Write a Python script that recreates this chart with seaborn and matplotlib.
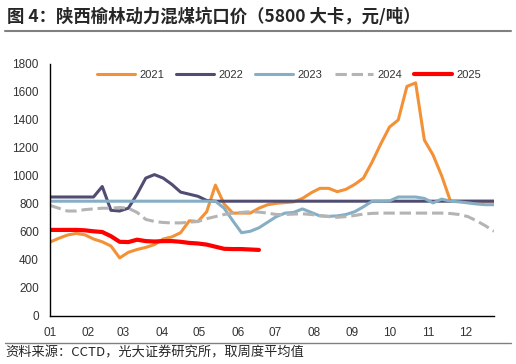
import numpy as np
import pandas as pd
import matplotlib
matplotlib.use("Agg")
import matplotlib.pyplot as plt
from matplotlib.lines import Line2D
import seaborn as sns

# weekly prices, week 0 = first week of January
y2021 = [528, 555, 578, 590, 580, 550, 530, 500, 415, 455, 475, 490, 510, 550, 565, 595,
         680, 675, 745, 935, 800, 735, 735, 735, 770, 795, 805, 810, 815, 840, 880, 912,
         912, 888, 905, 940, 985, 1100, 1230, 1350, 1400, 1640, 1665, 1257, 1150, 1000,
         820, 820, 820, 820, 820, 820]
y2022 = [850, 850, 850, 850, 850, 850, 925, 755, 750, 770, 870, 985, 1010, 985, 940, 885,
         870, 855, 825] + [820] * 33
y2023 = [820] * 20 + [770, 680, 595, 605, 630, 670, 710, 735, 740, 765, 740, 715, 712, 715,
                      725, 745, 780, 820, 820, 822, 850, 850, 850, 840, 808, 835, 820, 815,
                      808, 800, 795, 795]
y2024 = [790, 770, 750, 750, 760, 765, 770, 770, 775, 770, 740, 690, 675, 668, 665, 665,
         670, 675, 695, 710, 725, 735, 740, 745, 742, 735, 725, 725, 728, 730, 725, 718,
         710, 705, 710, 718, 728, 733, 735, 735, 735, 735, 735, 735, 735, 735, 732, 725,
         710, 680, 645, 605]
y2025 = [615, 615, 615, 615, 612, 605, 600, 570, 530, 528, 545, 535, 532, 535, 535, 530,
         522, 518, 510, 495, 480, 478, 478, 475, 472]

months = ["01", "02", "03", "04", "05", "06", "07", "08", "09", "10", "11", "12"]
month_start_day = [0, 31, 59, 90, 120, 151, 181, 212, 243, 273, 304, 334]

series = {"2021": y2021, "2022": y2022, "2023": y2023, "2024": y2024, "2025": y2025}
colors = {"2021": "#F39137", "2022": "#514D72", "2023": "#86AEC4",
          "2024": "#B4B4B4", "2025": "#FF0000"}
widths = {"2021": 2.2, "2022": 2.2, "2023": 2.2, "2024": 2.2, "2025": 3.0}

rows = []
for yr, vals in series.items():
    for i, v in enumerate(vals):
        rows.append({"week": i, "price": v, "year": yr})
df = pd.DataFrame(rows)

sns.set_theme(style="white")
plt.rcParams['font.family'] = ['Liberation Sans', 'Noto Sans CJK SC', 'DejaVu Sans']

W, H = 516, 364
fig = plt.figure(figsize=(W / 100, H / 100), dpi=100)
ax = fig.add_axes([50 / W, 1 - 316 / H, (494 - 50) / W, (316 - 64) / H])

for yr in series:
    sub = df[df["year"] == yr]
    sns.lineplot(data=sub, x="week", y="price", ax=ax, color=colors[yr],
                 linewidth=widths[yr], label=yr,
                 linestyle="--" if yr == "2024" else "-",
                 dashes=(2.2, 1.6) if yr == "2024" else (None, None))

ax.set_xlim(0, 51)
ax.set_ylim(0, 1800)
ax.set_yticks(range(0, 1801, 200))
ax.set_xticks([d / 7 for d in month_start_day])
ax.set_xticklabels(months)
ax.set_xlabel("")
ax.set_ylabel("")
ax.tick_params(axis="x", direction="in", length=3, labelsize=8.5, pad=8, colors="#333333")
ax.tick_params(axis="y", direction="out", length=3, labelsize=8.5, pad=5, colors="#333333")
for lab in ax.get_xticklabels() + ax.get_yticklabels():
    lab.set_color("#333333")
ax.tick_params(axis="both", color="black")
sns.despine(ax=ax)
for s in ["left", "bottom"]:
    ax.spines[s].set_color("black")
    ax.spines[s].set_linewidth(1.0)

leg = ax.legend(loc="upper center", bbox_to_anchor=(0.538, 1.0), ncol=5, frameon=False,
                fontsize=8, handlelength=3.4, handletextpad=0.4, columnspacing=1.1,
                borderaxespad=0.1)
for t in leg.get_texts():
    t.set_color("#333333")

fig.text(7 / W, 1 - 17 / H, "图 4：陕西榆林动力混煤坑口价（5800 大卡，元/吨）",
         fontsize=12.5, fontweight="bold", va="center", ha="left",
         family=["Noto Sans CJK SC", "DejaVu Sans"])
fig.add_artist(Line2D([5 / W, 511 / W], [1 - 31 / H] * 2, color="#808080", lw=1.5))
fig.add_artist(Line2D([5 / W, 511 / W], [1 - 343 / H] * 2, color="#808080", lw=1.0))
fig.text(5 / W, 1 - 353 / H, "资料来源：CCTD，光大证券研究所，取周度平均值",
         fontsize=9.5, va="center", ha="left",
         family=["Noto Sans CJK SC", "DejaVu Sans"])

fig.savefig("out.png", dpi=100)
